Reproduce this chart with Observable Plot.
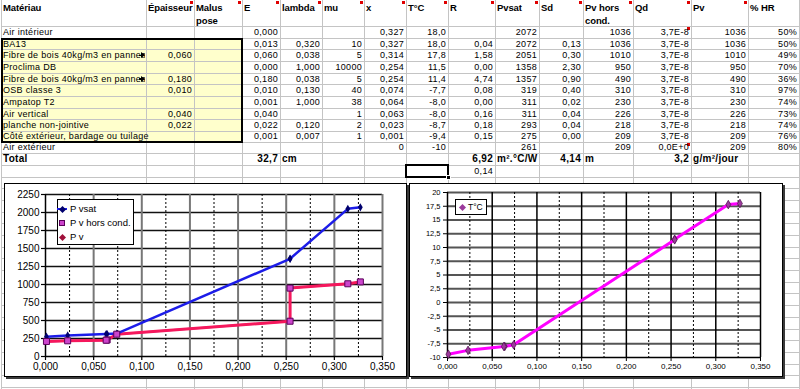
<!DOCTYPE html>
<html><head><meta charset="utf-8">
<script src="https://cdn.jsdelivr.net/npm/d3@7"></script>
<script src="https://cdn.jsdelivr.net/npm/@observablehq/plot@0.6"></script>
<style>
html,body{margin:0;padding:0;background:#fff;}
#sheet{position:relative;width:800px;height:389px;overflow:hidden;font-family:"Liberation Sans",Arial,sans-serif;color:#000;}
.c{position:absolute;box-sizing:border-box;border-right:1px solid #c4c4c4;border-bottom:1px solid #c4c4c4;}
.t{position:absolute;box-sizing:border-box;font-size:9px;white-space:nowrap;display:flex;align-items:center;padding:0 2px;letter-spacing:0.3px;overflow:visible;}
.h{position:absolute;box-sizing:border-box;font-size:9.5px;font-weight:bold;line-height:12.5px;padding:1px 2px;white-space:nowrap;letter-spacing:-0.1px;}
.b{font-weight:bold;font-size:10px;}
.red{position:absolute;width:3px;height:3px;background:#e00000;}
.chart{position:absolute;background:#fff;}
.frame{position:absolute;box-sizing:border-box;border:1px solid #000;box-shadow:2px 2px 0 #3a3a3a;pointer-events:none;}
.legend{position:absolute;box-sizing:border-box;border:1px solid #000;background:#fff;font-size:9.5px;}
.li{position:absolute;white-space:nowrap;}
</style>
</head><body>
<div id="sheet"></div>
<script>
// ---------- data (read from the spreadsheet) ----------
const headers = ["Matériau","Épaisseur","Malus\npose","E","lambda","mu","x","T°C","R","Pvsat","Sd","Pv hors\ncond.","Qd","Pv","% HR"];
const materials = ["Air intérieur","BA13","Fibre de bois 40kg/m3 en pannea","Proclima DB","Fibre de bois 40kg/m3 en pannea","OSB classe 3","Ampatop T2","Air vertical","planche non-jointive","Côté extérieur, bardage ou tuilage","Air extérieur"];
const epaisseur = [null,null,0.060,null,0.180,0.010,null,0.040,0.022,null,null];
const eValues = [0.000,0.013,0.060,0.000,0.180,0.010,0.001,0.040,0.022,0.001,null];
const lambdaValues = [null,0.320,0.038,1.000,0.038,0.130,1.000,null,0.120,0.007,null];
const muValues = [null,10,5,10000,5,40,38,1,2,1,null];
const xValues = [0.327,0.327,0.314,0.254,0.254,0.074,0.064,0.063,0.023,0.001,0];
const tempValues = [18.0,18.0,17.8,11.5,11.4,-7.7,-8.0,-8.0,-8.7,-9.4,-10];
const rValues = [null,0.04,1.58,0.00,4.74,0.08,0.00,0.16,0.18,0.15,null];
const pvsatValues = [2072,2072,2051,1358,1357,319,311,311,293,275,261];
const sdValues = [null,0.13,0.30,2.30,0.90,0.40,0.02,0.04,0.04,0.00,null];
const pvHorsCondValues = [1036,1036,1010,950,490,310,230,226,218,209,209];
const qdValues = ["3,7E-8","3,7E-8","3,7E-8","3,7E-8","3,7E-8","3,7E-8","3,7E-8","3,7E-8","3,7E-8","3,7E-8","0,0E+0"];
const pvValues = [1036,1036,1010,950,490,310,230,226,218,209,209];
const hrValues = [50,50,49,70,36,97,74,73,74,76,80];
const totals = {E:"32,7", Eunit:"cm", R:"6,92", Runit:"m².°C/W", Sd:"4,14", SdUnit:"m", flux:"3,2", fluxUnit:"g/m²/jour"};
const extraR = "0,14";
const xTicks = [0,0.05,0.10,0.15,0.20,0.25,0.30,0.35];
const xMinorTicks = [0.025,0.075,0.125,0.175,0.225,0.275,0.325];
const pTicks = [0,250,500,750,1000,1250,1500,1750,2000,2250];
const tTicks = [-10,-7.5,-5,-2.5,0,2.5,5,7.5,10,12.5,15,17.5,20];
const legendLeft = ["P vsat","P v hors cond.","P v"];
const legendRight = ["T°C"];

// ---------- layout ----------
const colEdges = [1,146,194,242,280,322,364,406,448,495,539,583,633,691,748,799];
const rowTops = [0,26,37.7,49.4,61,72.7,84.4,96,107.7,119.4,131,141.7,152.7,165,176.5];
while (rowTops[rowTops.length-1] < 395) rowTops.push(rowTops[rowTops.length-1] + 11.7);

const sheet = document.getElementById("sheet");
function el(cls, style, html){const d=document.createElement("div");d.className=cls;Object.assign(d.style,style);if(html!=null)d.innerHTML=html;sheet.appendChild(d);return d;}
const comma = (v,d)=> v==null ? "" : v.toFixed(d).replace(".",",");

// yellow input block
el("", {position:"absolute",left:"1px",top:rowTops[2]+"px",width:(242-1)+"px",height:(rowTops[11]-rowTops[2])+"px",background:"#ffffcc"});
// grid cells
for (let r=0;r<rowTops.length-1;r++){
  for (let c=0;c<colEdges.length-1;c++){
    el("c",{left:colEdges[c]+"px",top:rowTops[r]+"px",width:(colEdges[c+1]-colEdges[c]+1)+"px",height:(rowTops[r+1]-rowTops[r]+1)+"px",borderLeft:c===0?"1px solid #c4c4c4":"none"});
  }
}
el("", {position:"absolute",left:"1px",top:rowTops[2]+"px",width:(243-1)+"px",height:(rowTops[11]-rowTops[2]+1)+"px",border:"2px solid #000",boxSizing:"border-box"});

function put(text,c,r,align,cls){
  return el("t"+(cls?" "+cls:""),{left:colEdges[c]+"px",top:rowTops[r]+"px",width:(colEdges[c+1]-colEdges[c])+"px",height:(rowTops[r+1]-rowTops[r])+"px",justifyContent:align==="r"?"flex-end":"flex-start"},text);
}
// headers
headers.forEach((h,c)=>{ el("h",{left:colEdges[c]+"px",top:"1px"}, h.replace("\n","<br>")); });
// comment markers
[194,242,280,322,364,406,448,495,539,583,633,691,748].forEach(x=>el("red",{left:(x-4)+"px",top:"1px"}));
el("red",{left:"687px",top:(rowTops[1]+1)+"px"});
el("red",{left:"687px",top:(rowTops[11]+1)+"px"});

// body rows
materials.forEach((m,i)=>{
  const r=i+1;
  const last = i===materials.length-1;
  const mc = put(m,0,r,"l");
  if (m.endsWith("pannea")) {
    mc.style.overflow="hidden";
    mc.style.width=(colEdges[1]-colEdges[0]-1)+"px";
    const top = rowTops[r] + (rowTops[r+1]-rowTops[r])/2;
    el("",{position:"absolute",left:"139px",top:(top-0.5)+"px",width:"3px",height:"1.5px",background:"#000"});
    el("",{position:"absolute",left:"141px",top:(top-3)+"px",width:"0",height:"0",borderTop:"3px solid transparent",borderBottom:"3px solid transparent",borderLeft:"4px solid #000"});
  }
  put(comma(epaisseur[i],3),1,r,"r");
  put(comma(eValues[i],3),3,r,"r");
  put(comma(lambdaValues[i],3),4,r,"r");
  put(muValues[i]==null?"":String(muValues[i]),5,r,"r");
  put(last?String(xValues[i]):comma(xValues[i],3),6,r,"r");
  put(last?String(tempValues[i]):comma(tempValues[i],1),7,r,"r");
  put(comma(rValues[i],2),8,r,"r");
  put(String(pvsatValues[i]),9,r,"r");
  put(comma(sdValues[i],2),10,r,"r");
  put(String(pvHorsCondValues[i]),11,r,"r");
  put(qdValues[i],12,r,"r");
  put(String(pvValues[i]),13,r,"r");
  put(hrValues[i]+"%",14,r,"r");
});
// totals row
const tr = materials.length+1;
put("Total",0,tr,"l","b");
put(totals.E,3,tr,"r","b"); put(totals.Eunit,4,tr,"l","b");
put(totals.R,8,tr,"r","b"); put(totals.Runit,9,tr,"l","b");
put(totals.Sd,10,tr,"r","b"); put(totals.SdUnit,11,tr,"l","b");
put(totals.flux,12,tr,"r","b"); put(totals.fluxUnit,13,tr,"l","b");
put(extraR,8,tr+1,"r");
// selected cell
el("",{position:"absolute",left:"405px",top:(rowTops[tr+1]-1)+"px",width:"44px",height:(rowTops[tr+2]-rowTops[tr+1]+2)+"px",border:"2px solid #000",boxSizing:"border-box"});
el("",{position:"absolute",left:"446px",top:(rowTops[tr+2]-2)+"px",width:"5px",height:"5px",background:"#000",border:"1px solid #fff",boxSizing:"border-box"});

// ---------- charts ----------
const rows = d3.range(1, materials.length-1).map(i=>({x:xValues[i], pvsat:pvsatValues[i], pvhc:pvHorsCondValues[i], pv:pvValues[i], t:tempValues[i]}));
const fmtX = d => d3.format(".3f")(d).replace(".",",");
const fmtT = d => (d<0?"-":"") + String(Math.abs(d)).replace(".",",");
const font = '"Liberation Sans",Arial,sans-serif';

function box(left,top,w,h){
  return el("chart",{left:left+"px",top:top+"px",width:w+"px",height:h+"px"});
}
// left chart
const L = {left:4, top:183, w:403, h:194};
const cl = box(L.left,L.top,L.w,L.h);
cl.appendChild(Plot.plot({
  width:L.w, height:L.h, marginLeft:41, marginRight:25, marginTop:11, marginBottom:21,
  x:{domain:[0,0.35]}, y:{domain:[0,2250]},
  style:{fontFamily:font, fontSize:"10px", background:"white", color:"#000", overflow:"visible"},
  marks:[
    Plot.gridY(pTicks.filter(d=>d>0), {stroke:"#111", strokeOpacity:1, strokeWidth:1.5}),
    Plot.gridX(xTicks.filter(d=>d>0), {stroke:"#777", strokeOpacity:1, strokeWidth:2}),
    Plot.gridX(xMinorTicks, {stroke:"#000", strokeOpacity:1, strokeWidth:1, strokeDasharray:"2,2"}),
    Plot.ruleX([0], {stroke:"#000", strokeWidth:1.5}),
    Plot.ruleY([0], {stroke:"#000", strokeWidth:1.5}),
    Plot.axisY(pTicks, {tickSize:4, tickPadding:2, tickFormat:d=>String(d), fontSize:10, label:null, strokeWidth:1.2}),
    Plot.axisX(xTicks, {tickSize:4, tickPadding:2, tickFormat:fmtX, fontSize:10, label:null, strokeWidth:1.2}),
    Plot.line(rows, {x:"x", y:"pvhc", stroke:"#cc33cc", strokeWidth:2}),
    Plot.line(rows, {x:"x", y:"pv", stroke:"#f5185c", strokeWidth:3}),
    Plot.line(rows, {x:"x", y:"pvsat", stroke:"#1c1ce8", strokeWidth:2.5}),
    Plot.dot(rows, {x:"x", y:"pvsat", symbol:"diamond", fill:"#00006e", r:2.5}),
    Plot.dot(rows, {x:"x", y:"pvhc", symbol:"square", fill:"#cc44cc", stroke:"#5a005a", strokeWidth:1, r:3.4})
  ]
}));
el("frame",{left:L.left+"px",top:L.top+"px",width:L.w+"px",height:L.h+"px"});
// left legend
const lg = el("legend",{left:"57px",top:"199px",width:"77px",height:"46px"});
const swL = [
  '<span style="position:absolute;left:-5px;top:4px;width:10px;height:2px;background:#1c1ce8"></span><span style="position:absolute;left:-2.5px;top:2.5px;width:5px;height:5px;background:#00006e;transform:rotate(45deg)"></span>',
  '<span style="position:absolute;left:-3px;top:2px;width:6px;height:6px;background:#cc44cc;border:1px solid #5a005a;box-sizing:border-box"></span>',
  '<span style="position:absolute;left:-2.5px;top:2.5px;width:5px;height:5px;background:#a0103a;transform:rotate(45deg)"></span>'
];
legendLeft.forEach((t,i)=>{
  const it=document.createElement("div"); it.className="li";
  Object.assign(it.style,{left:"4px",top:(4+i*14)+"px",width:"72px",height:"11px"});
  it.innerHTML='<span style="position:absolute;left:0;top:0;width:0;height:10px">'+swL[i]+'</span><span style="position:absolute;left:8px;top:-1px">'+t+'</span>';
  lg.appendChild(it);
});

// right chart
const Rr = {left:409, top:183, w:374, h:194};
const cr = box(Rr.left,Rr.top,Rr.w,Rr.h);
cr.appendChild(Plot.plot({
  width:Rr.w, height:Rr.h, marginLeft:38, marginRight:23, marginTop:9, marginBottom:20,
  x:{domain:[0,0.35]}, y:{domain:[-10,20]},
  style:{fontFamily:font, fontSize:"8px", background:"white", color:"#000", overflow:"visible"},
  marks:[
    Plot.gridY(tTicks.filter(d=>d>-10), {stroke:"#555", strokeOpacity:1, strokeWidth:2}),
    Plot.gridX(xTicks.filter(d=>d>0), {stroke:"#000", strokeOpacity:1, strokeWidth:1.5}),
    Plot.gridX(xMinorTicks, {stroke:"#000", strokeOpacity:1, strokeWidth:1, strokeDasharray:"2,2"}),
    Plot.ruleX([0], {stroke:"#000", strokeWidth:1.5}),
    Plot.ruleY([-10], {stroke:"#000", strokeWidth:1.5}),
    Plot.axisY(tTicks, {tickSize:4, tickPadding:3, tickFormat:fmtT, fontSize:7.5, label:null}),
    Plot.axisX(xTicks, {tickSize:4, tickPadding:2, tickFormat:fmtX, fontSize:8, label:null}),
    Plot.line(rows, {x:"x", y:"t", stroke:"#ff00ff", strokeWidth:3}),
    Plot.dot(rows, {x:"x", y:"t", symbol:"diamond", fill:"#9b3a9b", stroke:"#4a104a", strokeWidth:0.7, r:2.6})
  ]
}));
el("frame",{left:Rr.left+"px",top:Rr.top+"px",width:Rr.w+"px",height:Rr.h+"px"});
const lg2 = el("legend",{left:"455px",top:"199px",width:"32px",height:"16px",fontSize:"8.5px"});
legendRight.forEach(t=>{
  lg2.innerHTML='<span style="position:absolute;left:4px;top:4.5px;width:5px;height:5px;background:#9b3a9b;transform:rotate(45deg)"></span><span style="position:absolute;left:12px;top:2px">'+t+'</span>';
});
</script>
</body></html>
